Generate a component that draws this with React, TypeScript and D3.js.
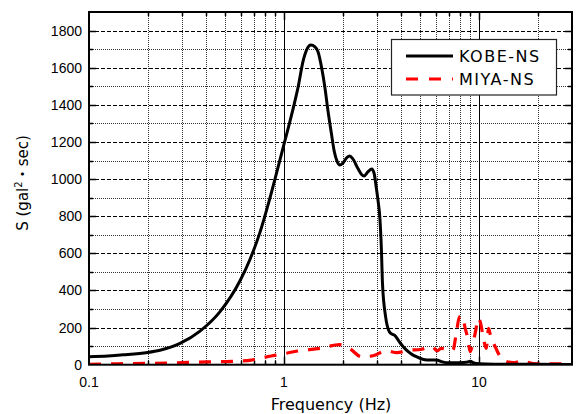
import React from "react";
import * as d3 from "d3";

const kobeFreq = [0.1, 0.125, 0.15, 0.2, 0.231, 0.26, 0.293, 0.371, 0.47, 0.595, 0.669, 0.753, 0.838, 0.917, 1.0035, 1.114, 1.184, 1.253, 1.312, 1.373, 1.442, 1.496, 1.56, 1.619, 1.68, 1.75, 1.81, 1.873, 1.933, 2.0, 2.1, 2.175, 2.25, 2.4, 2.5, 2.575, 2.7, 2.82, 2.9, 2.97, 3.04, 3.1, 3.16, 3.2, 3.32, 3.47, 3.58, 3.7, 3.9, 4.1, 4.25, 4.5, 4.77, 5.2, 5.6, 6.05, 6.5, 6.9, 8.0, 8.6, 9.0, 9.5, 10, 12, 20, 30];
const kobeVal = [43, 47, 53, 66, 78, 93, 115, 181, 286, 452, 567, 713, 880, 1035, 1193, 1380, 1500, 1635, 1700, 1722, 1712, 1685, 1600, 1498, 1370, 1247, 1150, 1095, 1076, 1085, 1115, 1124, 1110, 1055, 1025, 1017, 1040, 1054, 1030, 959, 880, 797, 618, 438, 259, 178, 165, 158, 124, 95, 79, 58, 43, 28, 25, 25, 15, 10, 11, 13, 18, 8, 5, 3, 2, 1];

const miyaFreq = [0.1, 0.14, 0.2, 0.3, 0.41, 0.54, 0.68, 0.86, 0.95, 1.2, 1.53, 1.93, 2.18, 2.5, 2.86, 3.35, 3.8, 4.4, 5.0, 5.75, 6.1, 6.4, 7.0, 7.36, 7.6, 7.95, 8.22, 8.5, 8.8, 9.0, 9.3, 9.6, 9.9, 10.2, 10.5, 10.9, 11.2, 11.5, 11.9, 13.3, 15, 16.8, 17.5, 20, 30];
const miyaVal = [2, 5, 7, 11, 15, 18, 25, 47, 55, 75, 88, 108, 86, 42, 48, 75, 65, 78, 82, 97, 75, 88, 80, 79, 150, 259, 262, 196, 133, 70, 115, 178, 250, 223, 151, 88, 196, 150, 115, 25, 11, 22, 15, 4, 4];

const seriesNames = ["KOBE-NS", "MIYA-NS"];
const yTicks = [0, 200, 400, 600, 800, 1000, 1200, 1400, 1600, 1800];
const xTickLabels = ["0.1", "1", "10"];
const xTickValues = [0.1, 1, 10];

const W = 578, H = 414;
const L = 89, R = 572, T = 12, B = 364.7;

const snap = (v: number) => Math.round(v) + 0.5;

export default function App() {
  const x = d3.scaleLog().domain([0.1, 30]).range([L, R]);
  const y = d3.scaleLinear().domain([0, 1900]).range([B, T]);

  const minorX: number[] = [];
  [0.1, 1, 10].forEach((d) => {
    for (let k = 2; k <= 9; k++) {
      const v = d * k;
      if (v < 30) minorX.push(v);
    }
  });
  const majorX = [1, 10];
  const minorY: number[] = [];
  for (let v = 100; v < 1900; v += 200) minorY.push(v);
  const majorY = yTicks.filter((v) => v > 0);

  const line = d3
    .line<[number, number]>()
    .x((d) => x(d[0]))
    .y((d) => y(d[1]))
    .curve(d3.curveMonotoneX);

  const kobe = line(kobeFreq.map((f, i) => [f, kobeVal[i]] as [number, number])) || "";
  const miya = line(miyaFreq.map((f, i) => [f, miyaVal[i]] as [number, number])) || "";

  const tickFont = "'Liberation Sans', Arial, sans-serif";
  const labelFont = "'DejaVu Sans', 'Noto Sans CJK JP', sans-serif";

  return (
    <svg width={W} height={H} style={{ position: "absolute", left: 0, top: 0, background: "#fff" }}>
      <defs>
        <clipPath id="plot">
          <rect x={L} y={T} width={R - L} height={B - T} />
        </clipPath>
      </defs>
      <rect x={0} y={0} width={W} height={H} fill="#fff" />
      {/* grid */}
      <g>
        {minorY.map((v) => (
          <line key={"my" + v} x1={L} x2={R} y1={snap(y(v))} y2={snap(y(v))} stroke="#333" strokeWidth={1} strokeDasharray="1,1" />
        ))}
        {majorY.map((v) => (
          <line key={"My" + v} x1={L} x2={R} y1={snap(y(v))} y2={snap(y(v))} stroke="#000" strokeWidth={1} strokeDasharray="4,2" />
        ))}
        {minorX.map((v) => (
          <line key={"mx" + v} x1={snap(x(v))} x2={snap(x(v))} y1={T} y2={B} stroke="#333" strokeWidth={1} strokeDasharray="1,1" />
        ))}
        {majorX.map((v) => (
          <line key={"Mx" + v} x1={snap(x(v))} x2={snap(x(v))} y1={T} y2={B} stroke="#000" strokeWidth={1} />
        ))}
      </g>
      {/* inward ticks */}
      <g stroke="#000" strokeWidth={1.5}>
        {minorX.map((v) => (
          <g key={"tx" + v}>
            <line x1={snap(x(v))} x2={snap(x(v))} y1={T} y2={T + 4} />
            <line x1={snap(x(v))} x2={snap(x(v))} y1={B} y2={B - 4} />
          </g>
        ))}
        {majorX.map((v) => (
          <g key={"Tx" + v}>
            <line x1={snap(x(v))} x2={snap(x(v))} y1={T} y2={T + 8} />
            <line x1={snap(x(v))} x2={snap(x(v))} y1={B} y2={B - 8} />
          </g>
        ))}
        {minorY.map((v) => (
          <g key={"ty" + v}>
            <line x1={L} x2={L + 4} y1={snap(y(v))} y2={snap(y(v))} />
            <line x1={R} x2={R - 4} y1={snap(y(v))} y2={snap(y(v))} />
          </g>
        ))}
        {majorY.map((v) => (
          <g key={"Ty" + v}>
            <line x1={L} x2={L + 7} y1={snap(y(v))} y2={snap(y(v))} />
            <line x1={R} x2={R - 7} y1={snap(y(v))} y2={snap(y(v))} />
          </g>
        ))}
      </g>
      {/* series */}
      <g clipPath="url(#plot)">
        <path d={miya} fill="none" stroke="#ff0000" strokeWidth={3.2} strokeDasharray="12,10" />
        <path d={kobe} fill="none" stroke="#000" strokeWidth={3} strokeLinejoin="round" />
      </g>
      {/* frame */}
      <rect x={L} y={T} width={R - L} height={B - T} fill="none" stroke="#000" strokeWidth={2} />
      {/* y tick labels */}
      {yTicks.map((v) => (
        <text key={"yl" + v} x={82} y={y(v) + 5} textAnchor="end" fontFamily={tickFont} fontSize={14} fill="#000">
          {v}
        </text>
      ))}
      {/* x tick labels */}
      {xTickValues.map((v, i) => (
        <text key={"xl" + v} x={x(v)} y={387} textAnchor="middle" fontFamily={tickFont} fontSize={14} fill="#000">
          {xTickLabels[i]}
        </text>
      ))}
      {/* axis titles */}
      <text x={331} y={410} textAnchor="middle" fontFamily={labelFont} fontSize={16} fill="#000">
        Frequency (Hz)
      </text>
      <text transform="translate(28,183) rotate(-90)" textAnchor="middle" fontFamily={labelFont} fontSize={15} fill="#000">
        S (gal<tspan fontSize={10} dy={-6}>2</tspan><tspan dy={6}>・sec)</tspan>
      </text>
      {/* legend */}
      <g>
        <rect x={391.5} y={39.5} width={165} height={55.5} fill="#fff" stroke="#222" strokeWidth={1.2} />
        <line x1={406} x2={453} y1={56} y2={56} stroke="#000" strokeWidth={3} />
        <line x1={406} x2={453} y1={79} y2={79} stroke="#ff0000" strokeWidth={3.2} strokeDasharray="12,11" />
        <text x={459} y={62} fontFamily={labelFont} fontSize={16} letterSpacing={1.5} fill="#000">
          {seriesNames[0]}
        </text>
        <text x={459} y={85} fontFamily={labelFont} fontSize={16} letterSpacing={1.5} fill="#000">
          {seriesNames[1]}
        </text>
      </g>
    </svg>
  );
}
